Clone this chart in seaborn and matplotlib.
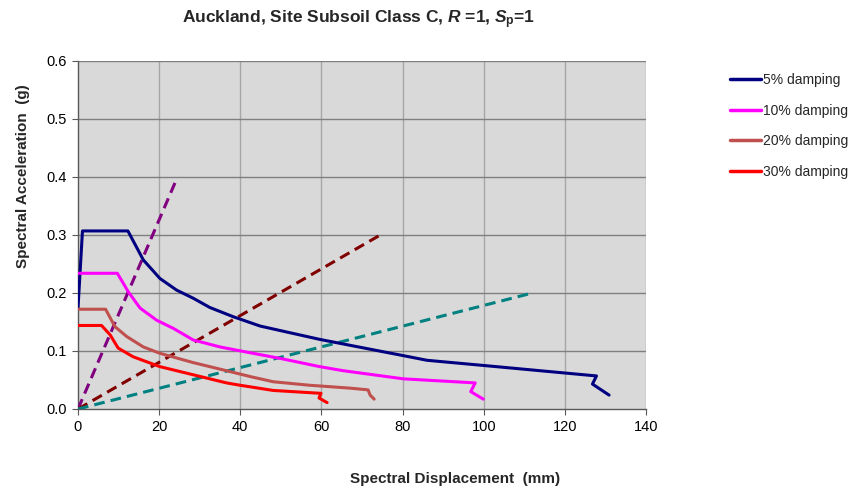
import matplotlib
matplotlib.use("Agg")
import matplotlib.pyplot as plt
import seaborn as sns
import pandas as pd
from matplotlib.lines import Line2D

# ---------------- data ----------------
sd_5 = [0, 1.1, 12.3, 16.1, 20.2, 24.3, 28.4, 32.5, 38.3, 44.9, 50, 59.6, 72.8, 80.2, 86, 101.6, 127.8, 126.8, 130.9]
sa_5 = [0.174, 0.307, 0.307, 0.257, 0.225, 0.205, 0.191, 0.175, 0.159, 0.143, 0.135, 0.120, 0.102, 0.092, 0.084, 0.074, 0.057, 0.043, 0.024]

sd_10 = [0, 9.7, 12.4, 15.3, 19.4, 23.5, 28.4, 35, 42.4, 50, 59.6, 65.4, 80.2, 97.9, 96.8, 99.9]
sa_10 = [0.234, 0.234, 0.202, 0.174, 0.153, 0.139, 0.119, 0.107, 0.097, 0.087, 0.073, 0.066, 0.052, 0.045, 0.030, 0.017]

sd_20 = [0, 6.8, 9.1, 12, 16.1, 20.2, 28.4, 36.6, 42.4, 48.1, 57, 67, 71.5, 72, 73]
sa_20 = [0.172, 0.172, 0.142, 0.125, 0.107, 0.096, 0.080, 0.066, 0.056, 0.047, 0.041, 0.036, 0.033, 0.024, 0.017]

sd_30 = [0, 5.8, 7.9, 9.9, 13.6, 20.2, 28.4, 36.6, 39.9, 48.1, 59.9, 59.4, 61.4]
sa_30 = [0.144, 0.144, 0.128, 0.105, 0.090, 0.073, 0.059, 0.045, 0.041, 0.032, 0.027, 0.019, 0.011]

damping_labels = ["5% damping", "10% damping", "20% damping", "30% damping"]
damping_colors = ["#000080", "#ff00ff", "#c0504d", "#ff0000"]

demand_sd = [[0, 24.4], [0, 74.5], [0, 112]]
demand_sa = [[0, 0.398], [0, 0.3], [0, 0.2]]
demand_names = ["d1", "d2", "d3"]
demand_colors = ["#800080", "#800000", "#008080"]

x_ticks = [0, 20, 40, 60, 80, 100, 120, 140]
y_ticks = [0.0, 0.1, 0.2, 0.3, 0.4, 0.5, 0.6]

# ---------------- build frames ----------------
rows = []
for lab, xs, ys in zip(damping_labels, [sd_5, sd_10, sd_20, sd_30], [sa_5, sa_10, sa_20, sa_30]):
    for i, (x, y) in enumerate(zip(xs, ys)):
        rows.append({"series": lab, "order": i, "sd": x, "sa": y})
df = pd.DataFrame(rows)

drows = []
for name, xs, ys in zip(demand_names, demand_sd, demand_sa):
    for i, (x, y) in enumerate(zip(xs, ys)):
        drows.append({"series": name, "order": i, "sd": x, "sa": y})
ddf = pd.DataFrame(drows)

# ---------------- style ----------------
sns.set_theme(style="white")
plt.rcParams["font.family"] = ["Liberation Sans", "DejaVu Sans"]
plt.rcParams["mathtext.fontset"] = "custom"
plt.rcParams["mathtext.rm"] = "Liberation Sans:bold"
plt.rcParams["mathtext.it"] = "Liberation Sans:italic:bold"
plt.rcParams["mathtext.bf"] = "Liberation Sans:bold"

fig = plt.figure(figsize=(8.51, 4.96), dpi=100)
ax = fig.add_axes([78 / 851, 1 - 409 / 496, (646 - 78) / 851, (409 - 61) / 496])
ax.set_facecolor("#d9d9d9")

# gridlines
for xv in x_ticks[1:]:
    ax.axvline(xv, color="#a6a6a6", lw=1.0, zorder=0)
for yv in y_ticks[1:]:
    ax.axhline(yv, color="#7f7f7f", lw=1.0, zorder=0)

# demand (dashed) lines
sns.lineplot(data=ddf, x="sd", y="sa", hue="series", palette=demand_colors,
             hue_order=demand_names, sort=False, estimator=None, units="series",
             lw=2.2, legend=False, ax=ax, zorder=3)
for ln in ax.get_lines()[-3:]:
    ln.set_dashes((3.5, 2.0))

# damping curves
sns.lineplot(data=df, x="sd", y="sa", hue="series", palette=damping_colors,
             hue_order=damping_labels, sort=False, estimator=None, units="series",
             lw=2.2, legend=False, ax=ax, zorder=4)

ax.set_xlim(0, 140)
ax.set_ylim(0, 0.6)
ax.set_xticks(x_ticks)
ax.set_xticklabels([str(v) for v in x_ticks])
ax.set_yticks(y_ticks)
ax.set_yticklabels([f"{v:.1f}" for v in y_ticks])
ax.tick_params(axis="both", labelsize=10.5, colors="#000000", length=4, width=0.8,
               direction="out", bottom=True, left=True, pad=4)
ax.tick_params(axis="both", color="#595959")

for side in ["top", "right"]:
    ax.spines[side].set_visible(False)
for side in ["left", "bottom"]:
    ax.spines[side].set_color("#595959")
    ax.spines[side].set_linewidth(1.0)

ax.set_xlabel("Spectral Displacement  (mm)", fontsize=11, fontweight="bold", labelpad=27)
ax.set_ylabel("Spectral Acceleration  (g)", fontsize=11, fontweight="bold", labelpad=12)
ax.xaxis.label.set_x(0.664)
ax.yaxis.label.set_y(0.67)

fig.text(0.421, 0.96, r"Auckland, Site Subsoil Class C, $\mathit{R}$ =1, $\mathit{S}_{\mathrm{p}}$=1",
         ha="center", va="center", fontsize=12.5, fontweight="bold")

handles = [Line2D([0], [0], color=c, lw=2.5) for c in damping_colors]
fig.legend(handles, damping_labels, loc="upper left", bbox_to_anchor=(730 / 851, 1 - 73 / 496),
           frameon=False, fontsize=10, handlelength=2.2, handletextpad=0.15,
           labelspacing=1.2, borderaxespad=0, borderpad=0)

fig.savefig("out.png", dpi=100)
